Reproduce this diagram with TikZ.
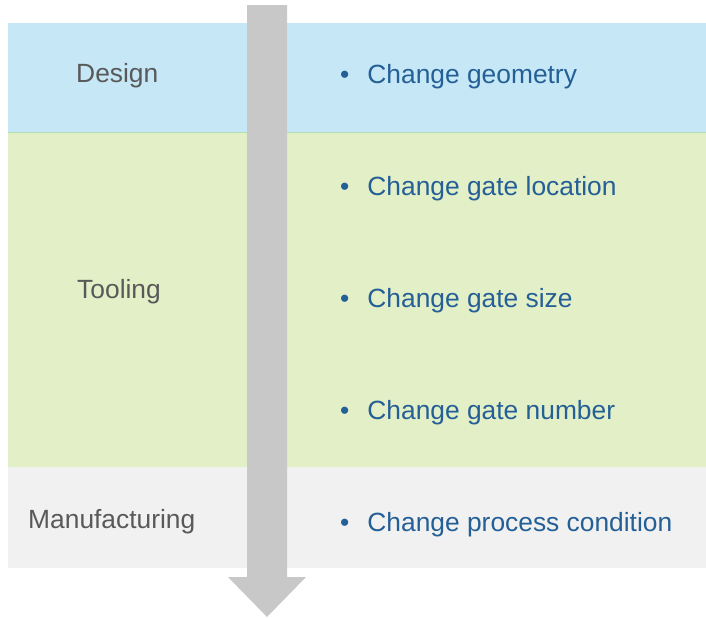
\documentclass[tikz,border=0pt]{standalone}
\usepackage{fontspec}
\setmainfont{Liberation Sans}
\usepackage{xcolor}
\usepackage{tikz}

\definecolor{designblue}{HTML}{C5E7F6}
\definecolor{toolgreen}{HTML}{E2EFC7}
\definecolor{mfggray}{HTML}{F1F1F1}
\definecolor{edgegreen}{HTML}{B5DDB9}
\definecolor{arrowgray}{HTML}{C8C8C8}
\definecolor{labelgray}{HTML}{595959}
\definecolor{itemblue}{HTML}{245F96}

\newcommand{\chg}[1]{\textbullet\hspace{5.4mm}#1}

\begin{document}
\begin{tikzpicture}[x=0.3mm,y=-0.3mm,
    stage/.style={anchor=base west,inner sep=0pt,text=labelgray,font=\fontsize{22.5}{27}\selectfont},
    change/.style={anchor=base west,inner sep=0pt,text=itemblue,font=\fontsize{22.5}{27}\selectfont}]
        \useasboundingbox (0,0) rectangle (706,617);

        % the three stage bands
        \fill[designblue] (8,23) rectangle (706,132);
        \fill[toolgreen] (8,132) rectangle (706,467);
        \fill[mfggray] (8,467) rectangle (706,568);
        \draw[edgegreen,line width=0.4pt] (8,132)--(706,132);

        % big downward arrow
        \fill[arrowgray] (247,5)--(287,5)--(287,577)--(306,577)--(267,617)--(228,577)--(247,577)--cycle;

        % stage names
        \node[stage] (design) at (76,82) {Design};
        \node[stage] (tooling) at (77,298) {Tooling};
        \node[stage] (manufacturing) at (28,528) {Manufacturing};

        % what can be changed at each stage
        \node[change] (geometry) at (340,83) {\chg{Change geometry}};
        \node[change] (location) at (340,195) {\chg{Change gate location}};
        \node[change] (size) at (340,307) {\chg{Change gate size}};
        \node[change] (number) at (340,419) {\chg{Change gate number}};
        \node[change] (process) at (340,531) {\chg{Change process condition}};
    \end{tikzpicture}
\end{document}
